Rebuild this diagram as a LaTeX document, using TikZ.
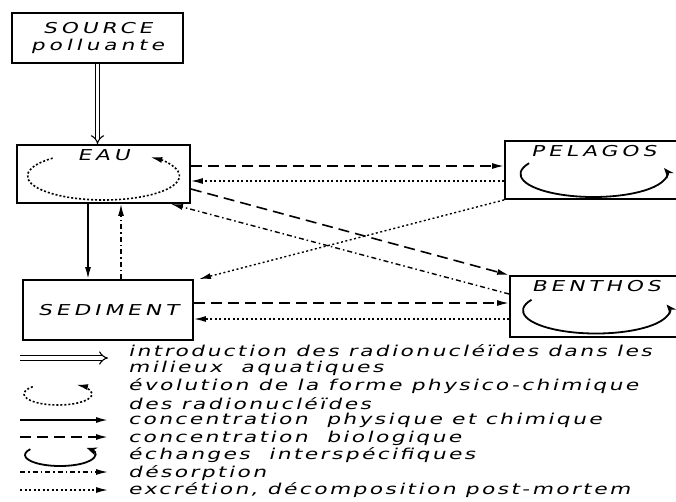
\documentclass[tikz,border=0pt]{standalone}
\usepackage{fontspec}
\newfontfamily\boxfont{DejaVu Sans}[FakeSlant=0.25,FakeStretch=1.45,LetterSpace=26]
\newfontfamily\legfont{DejaVu Sans}[FakeSlant=0.25,FakeStretch=1.45,LetterSpace=16]
\usetikzlibrary{arrows.meta,positioning}

\begin{document}
\begin{tikzpicture}[x=1pt, y=-1pt,
  comp/.style={draw, line width=1.8pt, inner sep=0pt},
  boxlab/.style={font=\boxfont\fontsize{15}{17}\selectfont},
  tip/.style={-{Latex[length=12pt,width=6pt]}},
  intro/.style={double, double distance=3.5pt, line width=1.1pt, -{Implies}},
  phys/.style={tip, line width=1.6pt},
  bio/.style={tip, line width=1.6pt, dash pattern=on 11pt off 6pt},
  deso/.style={tip, line width=1.4pt, dash pattern=on 5pt off 3pt on 1.5pt off 3pt},
  excr/.style={tip, line width=1.4pt, dash pattern=on 2pt off 2.5pt},
  evol/.style={tip, line width=1.6pt, dash pattern=on 2pt off 2pt},
  echg/.style={-{Stealth[length=10pt,width=8pt]}, line width=1.8pt},
  legtext/.style={anchor=west, inner sep=0pt, font=\legfont\fontsize{15}{17}\selectfont}]
  \useasboundingbox (0,0) rectangle (676,501);

  \node[comp, boxlab, minimum width=171pt, minimum height=50pt, align=center] (src) at (97.5,38) {SOURCE\\polluante};
  \node[comp, minimum width=173pt, minimum height=58pt,
    label={[boxlab, anchor=north, yshift=-2pt]north:EAU}] (eau) at (103.5,174) {};
  \node[comp, boxlab, minimum width=170pt, minimum height=60pt] (sed) at (108,310) {SEDIMENT};
  \node[comp, minimum width=177pt, minimum height=58pt,
    label={[boxlab, anchor=north, yshift=-2pt]north:PELAGOS}] (pel) at (593.5,170) {};
  \node[comp, minimum width=172pt, minimum height=61pt,
    label={[boxlab, anchor=north, yshift=-2pt]north:BENTHOS}] (ben) at (596,306.5) {};

  \draw[evol] ([yshift=-2pt]eau.center) ++(228:76 and 24) arc[start angle=228, end angle=-52, x radius=76, y radius=24];
  \draw[echg] ([yshift=-4pt]pel.center) ++(208:73 and 23) arc[start angle=208, end angle=-15, x radius=73, y radius=23];
  \draw[echg] ([yshift=-4pt]ben.center) ++(208:73 and 23) arc[start angle=208, end angle=-15, x radius=73, y radius=23];

  \coordinate (lphys) at (88,0);
  \coordinate (ldeso) at (121,0);
  \coordinate (lbio) at (0,166);
  \coordinate (lexcr) at (0,181);
  \coordinate (ldiag) at (0,189);
  \coordinate (lback) at (0,294);
  \coordinate (lsedb) at (0,303);
  \coordinate (lbens) at (0,319);

  \draw[intro] (src.south) -- (src.south |- eau.north);
  \draw[phys] (eau.south -| lphys) -- (sed.north -| lphys);
  \draw[deso] (sed.north -| ldeso) -- (eau.south -| ldeso);
  \draw[bio] (eau.east |- lbio) -- (pel.west |- lbio);
  \draw[excr] (pel.west |- lexcr) -- (eau.east |- lexcr);
  \draw[bio] (eau.east |- ldiag) -- (ben.north west);
  \draw[deso] (ben.west |- lback) -- ([xshift=-20pt]eau.south east);
  \draw[excr] (pel.south west) -- ([xshift=5pt]sed.north east);
  \draw[bio] (sed.east |- lsedb) -- (ben.west |- lsedb);
  \draw[excr] (ben.west |- lbens) -- (sed.east |- lbens);

  \foreach \t [count=\i] in {introduction des radionucléïdes dans les, milieux\ \ aquatiques,
      évolution de la forme physico-chimique, des radionucléïdes,
      concentration\ \ physique et chimique, concentration\ \ biologique,
      échanges\ \ interspécifiques, désorption, {excrétion, décomposition post-mortem}}
    \node[legtext] (leg\i) at (128,333.6+17.4*\i) {\t};

  \draw[intro] (20,358) coordinate (ka) -- (108,358) coordinate (kb);
  \draw[evol] (58,394) ++(222:34 and 11) arc[start angle=222, end angle=-58, x radius=34, y radius=11];
  \draw[echg] (60,455) ++(212:35 and 11) arc[start angle=212, end angle=-40, x radius=35, y radius=11];
  \foreach \s/\y in {phys/420, bio/437, deso/472, excr/490}
    \draw[\s] (20,\y) coordinate (k\s a) -- (108,\y) coordinate (k\s b);
\end{tikzpicture}
\end{document}
